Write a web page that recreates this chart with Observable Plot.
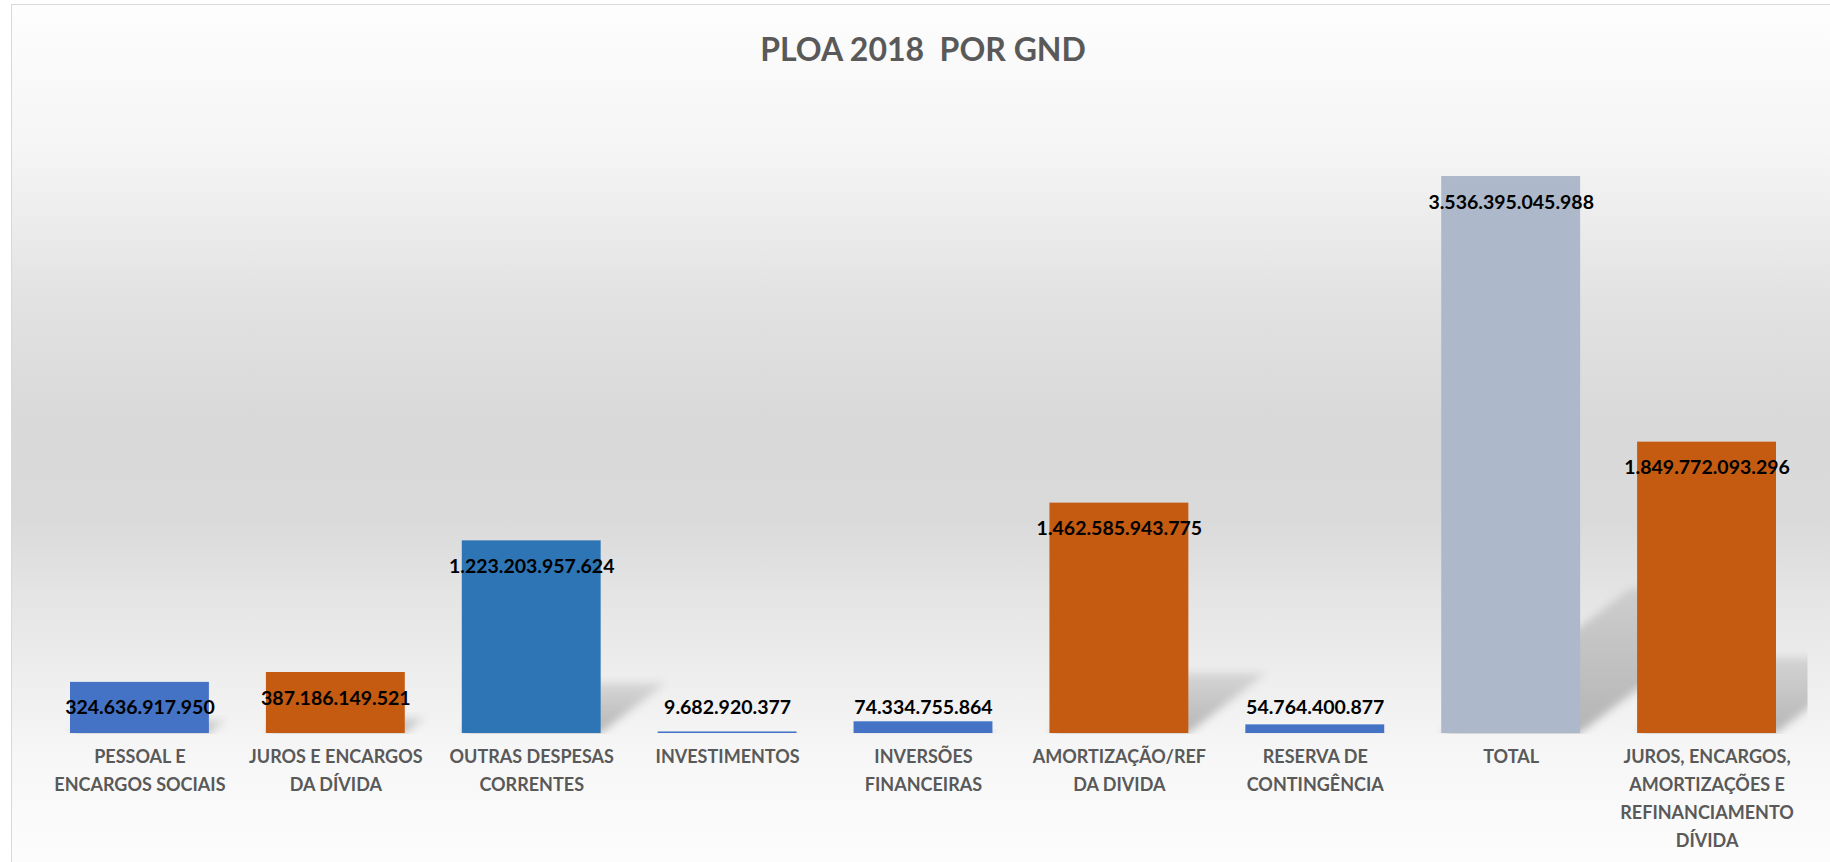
<!DOCTYPE html>
<html>
<head>
<meta charset="utf-8">
<script src="https://cdn.jsdelivr.net/npm/d3@7"></script>
<script src="https://cdn.jsdelivr.net/npm/@observablehq/plot@0.6"></script>
<style>
html, body { margin: 0; padding: 0; background: #fff; overflow: hidden; }
#page { position: relative; width: 1830px; height: 862px; overflow: hidden; background: #fff; font-family: Lato, sans-serif; }
#frame {
  position: absolute; left: 11px; top: 4px; width: 1840px; height: 880px;
  border: 1.5px solid #d9d9d9; box-sizing: border-box;
  background: linear-gradient(to bottom,
    #fdfdfd 0%, #f5f5f5 16.6%, #e2e2e2 33.6%, #d9d9d9 47.3%, #dadada 58.6%,
    #e5e5e5 67.7%, #eeeeee 76.8%, #f7f7f7 85.9%, #fcfcfc 97.5%);
}
#title {
  position: absolute; left: 11px; width: 1824px; top: 33px; text-align: center;
  font: bold 32px/32px Lato, sans-serif; color: #595959; white-space: pre;
}
#chart { position: absolute; left: 0; top: 90px; }
</style>
</head>
<body>
<div id="page">
  <div id="frame"></div>
  <div id="title">PLOA 2018  POR GND</div>
  <div id="chart"></div>
</div>
<script>
// ---- data ----
const categories = [
  "PESSOAL E ENCARGOS SOCIAIS",
  "JUROS E ENCARGOS DA DÍVIDA",
  "OUTRAS DESPESAS CORRENTES",
  "INVESTIMENTOS",
  "INVERSÕES FINANCEIRAS",
  "AMORTIZAÇÃO/REF DA DIVIDA",
  "RESERVA DE CONTINGÊNCIA",
  "TOTAL",
  "JUROS, ENCARGOS, AMORTIZAÇÕES E REFINANCIAMENTO DÍVIDA"
];
const tickLabels = [
  "PESSOAL E\nENCARGOS SOCIAIS",
  "JUROS E ENCARGOS\nDA DÍVIDA",
  "OUTRAS DESPESAS\nCORRENTES",
  "INVESTIMENTOS",
  "INVERSÕES\nFINANCEIRAS",
  "AMORTIZAÇÃO/REF\nDA DIVIDA",
  "RESERVA DE\nCONTINGÊNCIA",
  "TOTAL",
  "JUROS, ENCARGOS,\nAMORTIZAÇÕES E\nREFINANCIAMENTO\nDÍVIDA"
];
const amounts = [
  324636917950,
  387186149521,
  1223203957624,
  9682920377,
  74334755864,
  1462585943775,
  54764400877,
  3536395045988,
  1849772093296
];
const barColors = ["#4472C4", "#C55A11", "#2E75B6", "#4472C4", "#4472C4", "#C55A11", "#4472C4", "#ADB9CA", "#C55A11"];
const yMax = 4e12;           // hidden value-axis maximum
const labelFloor = 330e9;    // labels of shorter bars sit at this level

// ---- build ----
const data = categories.map((c, i) => ({category: c, value: amounts[i]}));
const ptBR = d3.formatLocale({decimal: ",", thousands: ".", grouping: [3], currency: ["", ""]});
const fmt = ptBR.format(",d");

function shadowMark(index, scales, vals, dimensions) {
  const x = scales.x, y = scales.y;
  const {width, height, marginLeft, marginRight, marginBottom} = dimensions;
  const g = d3.create("svg:g");
  const defs = g.append("defs");
  const f = defs.append("filter").attr("id", "shblur")
    .attr("x", "-30%").attr("y", "-30%").attr("width", "160%").attr("height", "160%");
  f.append("feGaussianBlur").attr("stdDeviation", 4);
  const lg = defs.append("linearGradient").attr("id", "shgrad")
    .attr("x1", 0).attr("y1", 1).attr("x2", 0).attr("y2", 0);
  lg.append("stop").attr("offset", 0).attr("stop-color", "#000").attr("stop-opacity", 0.26);
  lg.append("stop").attr("offset", 1).attr("stop-color", "#000").attr("stop-opacity", 0.10);
  defs.append("clipPath").attr("id", "shclip").append("rect")
    .attr("x", marginLeft).attr("y", 0)
    .attr("width", width - marginLeft - marginRight + 3)
    .attr("height", height - marginBottom + 1);
  const y0 = y(0);
  const w = x.bandwidth();
  const gg = g.append("g").attr("clip-path", "url(#shclip)");
  data.forEach(d => {
    const x0 = x(d.category);
    const h = y0 - y(d.value);
    const sx = 0.34 * h, sy = 0.26 * h;
    gg.append("polygon")
      .attr("points", [[x0, y0], [x0 + w, y0], [x0 + w + sx, y0 - sy], [x0 + sx, y0 - sy]].map(p => p.join(",")).join(" "))
      .attr("fill", "url(#shgrad)")
      .attr("filter", "url(#shblur)");
  });
  return g.node();
}

const chart = Plot.plot({
  width: 1830,
  height: 772,
  marginTop: 13,
  marginBottom: 129,
  marginLeft: 41.5,
  marginRight: 25.5,
  style: {background: "transparent", fontFamily: "Lato, sans-serif", overflow: "visible"},
  x: {domain: categories, paddingInner: 0.291, paddingOuter: 0.1455, round: false},
  y: {domain: [0, yMax], axis: null},
  color: {domain: categories, range: barColors},
  marks: [
    shadowMark,
    Plot.barY(data, {x: "category", y: "value", fill: "category"}),
    Plot.text(data, {
      x: "category",
      y: d => Math.max(d.value, labelFloor),
      dy: 26,
      text: d => fmt(d.value),
      fontSize: 19.5,
      fontWeight: "bold",
      fill: "#000"
    }),
    Plot.axisX({
      tickSize: 0,
      tickPadding: 10,
      tickFormat: d => tickLabels[categories.indexOf(d)],
      fontSize: 18,
      fontWeight: "bold",
      color: "#595959",
      lineHeight: 1.55,
      label: null
    })
  ]
});
document.getElementById("chart").appendChild(chart);
</script>
</body>
</html>
